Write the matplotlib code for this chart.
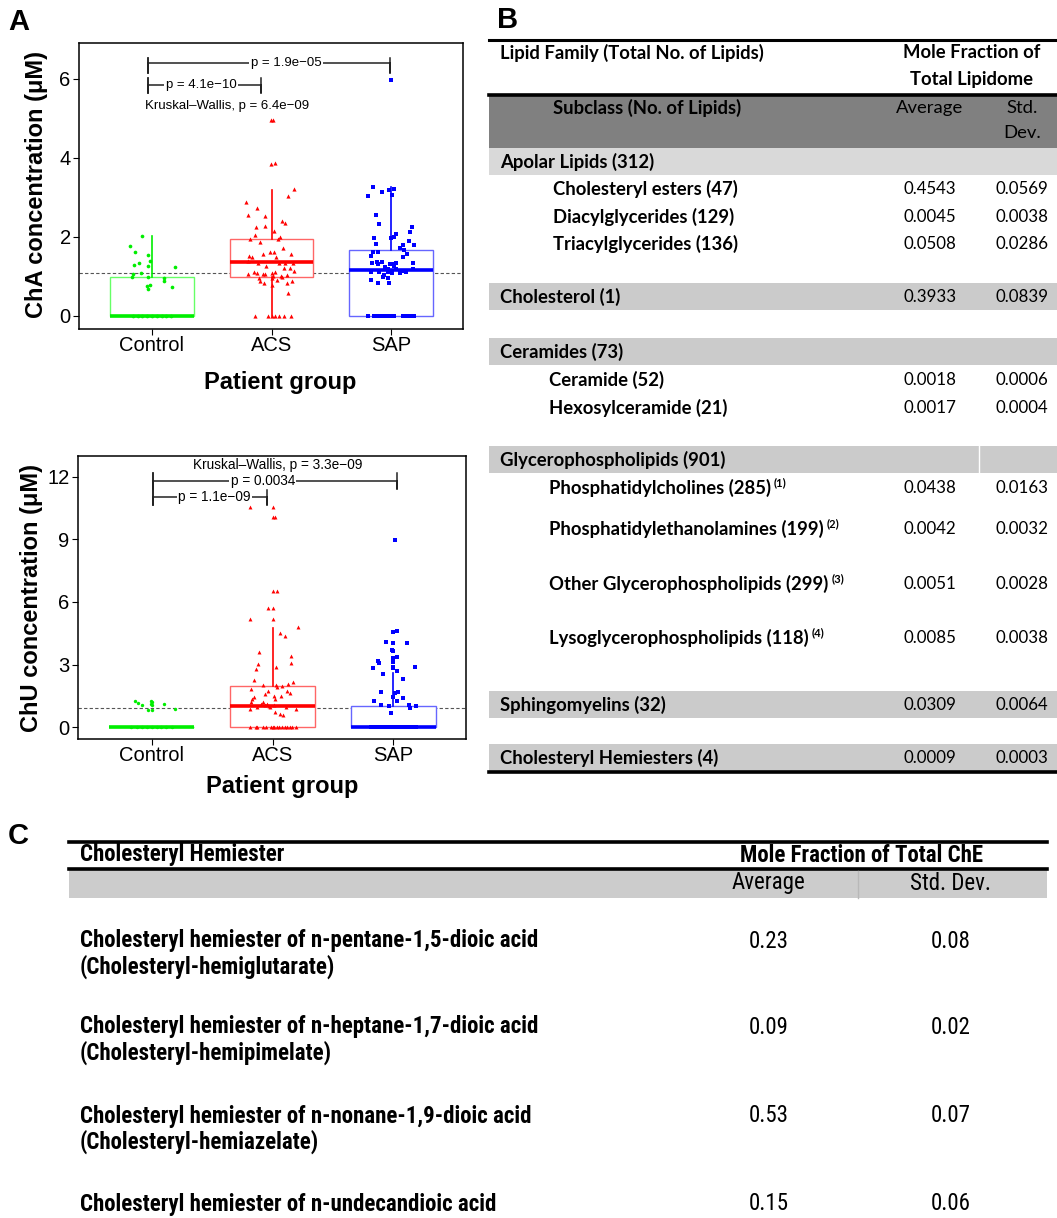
import matplotlib
matplotlib.use("Agg")
import matplotlib.pyplot as plt
from matplotlib.patches import Rectangle
from matplotlib import font_manager as fm
import numpy as np

# ------------------------------------------------------------------ data
groups = ["Control", "ACS", "SAP"]

# Panel A (top): ChA concentration
cha_q1 = [0.0, 0.99, 0.0]
cha_med = [0.0, 1.37, 1.17]
cha_q3 = [0.99, 1.96, 1.68]
cha_whislo = [0.0, 0.0, 0.0]
cha_whishi = [2.03, 3.20, 3.27]
cha_ref = 1.09

cha_ctrl_y = [2.03, 1.78, 1.63, 1.54, 1.40, 1.34, 1.28, 1.27, 1.25, 1.08, 1.06, 0.98, 0.99, 0.97,
              0.89, 0.78, 0.75, 0.73, 0.67, 0, 0, 0, 0, 0, 0, 0, 0, 0]
cha_ctrl_dx = [-0.08, -0.18, -0.14, -0.03, -0.02, -0.11, -0.15, -0.03, 0.19, -0.09, -0.16, -0.17, -0.03,
               0.10, 0.10, -0.02, -0.04, 0.17, -0.03, -0.16, -0.12, -0.08, -0.04, 0.0, 0.04, 0.08, 0.12, 0.16]

cha_acs_y = [4.95, 4.95, 3.85, 3.86, 3.22, 3.03, 2.89, 2.73, 2.55, 2.52, 2.41, 2.35, 2.24, 2.29, 2.16,
             2.05, 2.01, 1.96, 1.95, 1.87, 1.72, 1.62, 1.62, 1.57, 1.56, 1.52, 1.49, 1.50, 1.33, 1.34,
             1.33, 1.38, 1.34, 1.27, 1.22, 1.22, 1.12, 1.08, 1.07, 1.06, 1.10, 1.11, 1.02, 1.02, 1.04,
             1.13, 1.05, 0.95, 0.89, 0.84, 0.95, 0.90, 0.84, 0.89, 0.98, 0.78, 0.59,
             0, 0, 0, 0, 0, 0, 0]
cha_acs_dx = [-0.003, 0.014, -0.003, 0.028, 0.19, 0.14, -0.21, -0.12, -0.20, -0.056, 0.09, 0.114, -0.13,
              -0.058, 0.017, -0.14, 0.07, 0.053, -0.183, -0.094, 0.094, -0.014, 0.019, -0.069, 0.161,
              -0.186, -0.161, 0.039, 0.058, 0.114, 0.178, -0.20, -0.117, -0.044, 0.10, 0.15, -0.144,
              -0.119, -0.072, -0.056, 0.006, 0.025, 0.014, 0.075, 0.125, 0.19, -0.197, -0.106, -0.094,
              -0.061, 0.006, 0.047, 0.131, 0.172, 0.086, 0.0, 0.136,
              -0.14, -0.03, 0.0, 0.03, 0.06, 0.10, 0.16]

cha_sap_y = [5.97, 3.26, 3.22, 3.18, 3.13, 3.03, 3.05, 2.55, 2.32, 2.24, 2.12, 2.07, 2.00, 1.97, 1.97,
             1.89, 1.81, 1.79, 1.79, 1.71, 1.68, 1.61, 1.61, 1.53, 1.56, 1.49, 1.35, 1.33, 1.36, 1.31,
             1.36, 1.32, 1.32, 1.33, 1.27, 1.23, 1.19, 1.19, 1.18, 1.11, 1.11, 1.12, 1.08, 1.08, 1.14,
             1.12, 1.04, 0.98, 0.95, 0.90, 0.83, 0.83,
             0, 0, 0, 0, 0, 0, 0, 0, 0, 0, 0, 0, 0, 0, 0]
cha_sap_dx = [0.0, -0.15, 0.02, -0.02, -0.08, -0.19, 0.01, -0.13, -0.10, 0.17, 0.16, 0.04, 0.02, 0.0,
              -0.14, 0.15, -0.13, 0.19, 0.10, 0.07, 0.11, -0.15, -0.11, -0.17, 0.13, 0.10, 0.18, -0.16,
              -0.12, -0.11, -0.08, -0.01, 0.01, 0.04, 0.02, -0.05, -0.03, 0.04, 0.18, -0.17, -0.10,
              -0.03, 0.01, 0.07, 0.10, 0.12, -0.06, -0.07, -0.03, -0.17, -0.11, -0.02,
              -0.19, -0.14, -0.12, -0.10, -0.08, -0.06, -0.04, -0.02, 0.0, 0.02, 0.10, 0.12, 0.14,
              0.16, 0.19]

# Panel A (bottom): ChU concentration
chu_q1 = [0.0, 0.0, 0.0]
chu_med = [0.0, 1.03, 0.0]
chu_q3 = [0.0, 1.99, 1.03]
chu_whislo = [0.0, 0.0, 0.0]
chu_whishi = [0.0, 4.74, 2.59]
chu_ref = 0.92

chu_ctrl_y = [1.27, 1.18, 1.08, 1.28, 1.20, 1.12, 1.07, 0.84, 0.83, 1.12, 0.86,
              0, 0, 0, 0, 0, 0, 0, 0, 0]
chu_ctrl_dx = [-0.14, -0.11, -0.08, -0.01, 0.0, -0.01, 0.0, -0.03, 0.0, 0.10, 0.19,
               -0.17, -0.12, -0.08, -0.04, 0.0, 0.04, 0.08, 0.12, 0.17]

chu_acs_y = [10.53, 10.53, 10.08, 10.08, 6.53, 6.53, 5.73, 5.71, 5.20, 5.18, 4.79, 4.50, 4.39, 3.62,
             3.43, 3.02, 3.06, 2.79, 2.87, 2.25, 2.17, 2.01, 2.01, 1.98, 1.91, 2.07, 1.82, 1.72, 1.75,
             1.63, 1.58, 1.45, 1.50, 1.50, 1.37, 1.37, 1.20, 1.21, 1.12, 1.13, 1.05, 1.02, 0.97, 1.05,
             0.99, 0.99, 0.88, 0.88, 0.75, 0.65, 0.59,
             0, 0, 0, 0, 0, 0, 0, 0, 0, 0, 0, 0, 0, 0, 0, 0]
chu_acs_dx = [-0.19, 0.0, 0.0, 0.02, 0.0, 0.04, -0.04, 0.0, -0.19, 0.0, 0.21, 0.06, 0.10, -0.11, 0.15,
              -0.12, 0.155, -0.135, 0.025, -0.15, 0.17, -0.08, 0.025, 0.08, 0.04, 0.13, -0.18, -0.04,
              0.12, 0.14, -0.06, -0.15, 0.01, 0.07, -0.17, 0.02, -0.08, -0.18, -0.10, -0.05, -0.06,
              -0.03, -0.02, 0.01, -0.13, 0.11, -0.19, 0.19, 0.02, 0.06, 0.09,
              -0.19, -0.14, -0.13, -0.08, -0.055, -0.017, 0.0, 0.014, 0.033, 0.055, 0.08, 0.10, 0.12,
              0.14, 0.16, 0.19]

chu_sap_y = [8.95, 4.60, 4.56, 4.07, 4.02, 4.02, 3.69, 3.64, 3.35, 3.34, 3.16, 3.10, 3.11, 2.90, 2.83,
             2.87, 2.84, 2.68, 2.54, 2.30, 1.67, 1.63, 1.67, 1.39, 1.44, 1.24, 1.24, 1.05, 1.00, 1.05,
             1.00, 0.91, 0.67,
             0, 0, 0, 0, 0, 0, 0, 0, 0, 0, 0, 0, 0, 0, 0, 0, 0, 0, 0, 0]
chu_sap_dx = [0.01, 0.03, 0.0, -0.06, 0.0, 0.11, -0.01, 0.0, 0.03, 0.0, -0.13, -0.12, 0.0, 0.0, -0.17,
              0.18, 0.0, 0.03, -0.09, 0.08, -0.10, 0.01, 0.04, 0.08, 0.0, -0.16, 0.03, -0.10, -0.04,
              0.13, 0.19, 0.14, -0.02,
              -0.19, -0.17, -0.15, -0.13, -0.11, -0.09, -0.07, -0.05, -0.03, -0.01, 0.01, 0.03, 0.05,
              0.07, 0.09, 0.11, 0.13, 0.15, 0.17, 0.19]

cha_tests = ["p = 1.9e\u221205", "p = 4.1e\u221210", "Kruskal\u2013Wallis, p = 6.4e\u221209"]
chu_tests = ["Kruskal\u2013Wallis, p = 3.3e\u221209", "p = 0.0034", "p = 1.1e\u221209"]

# Panel B table
family_names = ["Apolar Lipids (312)", "Cholesterol (1)", "Ceramides (73)",
                "Glycerophospholipids (901)", "Sphingomyelins (32)", "Cholesteryl Hemiesters (4)"]
family_avg = [None, 0.3933, None, None, 0.0309, 0.0009]
family_sd = [None, 0.0839, None, None, 0.0064, 0.0003]

subclass_names = ["Cholesteryl esters (47)", "Diacylglycerides (129)", "Triacylglycerides (136)",
                  "Ceramide (52)", "Hexosylceramide (21)",
                  "Phosphatidylcholines (285)", "Phosphatidylethanolamines (199)",
                  "Other Glycerophospholipids (299)", "Lysoglycerophospholipids (118)"]
subclass_notes = ["", "", "", "", "", "(1)", "(2)", "(3)", "(4)"]
subclass_avg = [0.4543, 0.0045, 0.0508, 0.0018, 0.0017, 0.0438, 0.0042, 0.0051, 0.0085]
subclass_sd = [0.0569, 0.0038, 0.0286, 0.0006, 0.0004, 0.0163, 0.0032, 0.0028, 0.0038]

# Panel C table
hemiester_names = ["Cholesteryl hemiester of n-pentane-1,5-dioic acid",
                   "Cholesteryl hemiester of n-heptane-1,7-dioic acid",
                   "Cholesteryl hemiester of n-nonane-1,9-dioic acid",
                   "Cholesteryl hemiester of n-undecandioic acid"]
hemiester_alias = ["(Cholesteryl-hemiglutarate)", "(Cholesteryl-hemipimelate)",
                   "(Cholesteryl-hemiazelate)", ""]
hemiester_avg = [0.23, 0.09, 0.53, 0.15]
hemiester_sd = [0.08, 0.02, 0.07, 0.06]

# ------------------------------------------------------------------ fonts
avail = {f.name for f in fm.fontManager.ttflist}
SANS = "Liberation Sans"
NARROW = next((f for f in ["Liberation Sans Narrow", "Roboto Condensed", "Open Sans Condensed"]
               if f in avail), "Liberation Sans")
CAL = "Lato" if "Lato" in avail else "DejaVu Sans"
plt.rcParams["font.family"] = [SANS, "DejaVu Sans"]

W, H = 1057, 1218
fig = plt.figure(figsize=(W / 100, H / 100), dpi=100)
bg = fig.add_axes([0, 0, 1, 1])
bg.set_xlim(0, W)
bg.set_ylim(H, 0)
bg.axis("off")


def fax(x0, y0, x1, y1):
    return fig.add_axes([x0 / W, 1 - y1 / H, (x1 - x0) / W, (y1 - y0) / H])


cols = ["#00ee00", "#ff0000", "#0000ff"]
light = ["#66ff66", "#ff6666", "#6666ff"]
markers = ["o", "^", "s"]


def panel(ax, q1, med, q3, wlo, whi, pts, ref, ylim, yticks, msizes):
    for i in range(3):
        st = [dict(q1=q1[i], med=med[i], q3=q3[i], whislo=wlo[i], whishi=whi[i], label=groups[i])]
        ax.bxp(st, positions=[i + 1], widths=0.7, showfliers=False, showcaps=False,
               patch_artist=True,
               boxprops=dict(facecolor="white", edgecolor=light[i], linewidth=1.0),
               medianprops=dict(color=cols[i], linewidth=2.6, solid_capstyle="butt"),
               whiskerprops=dict(color=cols[i], linewidth=1.2))
        y, dx = pts[i]
        ax.scatter(np.add(i + 1, dx), y, marker=markers[i], s=msizes[i], color=cols[i],
                   linewidths=0, zorder=3)
    ax.axhline(ref, ls=(0, (3, 2)), color="#555555", lw=0.8, zorder=1)
    ax.set_xlim(0.39, 3.60)
    ax.set_ylim(*ylim)
    ax.set_yticks(yticks)
    ax.set_xticks([1, 2, 3])
    ax.set_xticklabels(groups)
    ax.tick_params(axis="both", direction="out", length=4, width=0.8, labelsize=14.5, pad=2)
    ax.tick_params(axis="x", pad=1)
    for s in ax.spines.values():
        s.set_linewidth(1.1)


def bracket(ax, x0, x1, y, up, down, label, xt, fs):
    ax.plot([x0, x0, x0, x1, x1, x1], [y + up, y - down, y, y, y - down, y + up],
            color="#222222", lw=1.1, zorder=5)
    ax.plot([x0, x0], [y + up, y - down], color="#222222", lw=1.1, zorder=5)
    ax.text(xt, y, label, ha="center", va="center", fontsize=fs, zorder=6,
            bbox=dict(facecolor="white", edgecolor="none", pad=1.0))


# ---- top plot
ax1 = fax(79, 43, 463, 329)
panel(ax1, cha_q1, cha_med, cha_q3, cha_whislo, cha_whishi,
      [(cha_ctrl_y, cha_ctrl_dx), (cha_acs_y, cha_acs_dx), (cha_sap_y, cha_sap_dx)],
      cha_ref, (-0.33, 6.91), [0, 2, 4, 6], [7, 9, 12])
bracket(ax1, 0.97, 2.99, 6.40, 0.12, 0.25, cha_tests[0], 2.12, 9.5)
bracket(ax1, 0.97, 1.91, 5.85, 0.18, 0.2, cha_tests[1], 1.41, 9.5)
ax1.text(1.63, 5.32, cha_tests[2], ha="center", va="center", fontsize=9.5)

# ---- bottom plot
ax2 = fax(78, 456, 466, 739)
panel(ax2, chu_q1, chu_med, chu_q3, chu_whislo, chu_whishi,
      [(chu_ctrl_y, chu_ctrl_dx), (chu_acs_y, chu_acs_dx), (chu_sap_y, chu_sap_dx)],
      chu_ref, (-0.56, 12.99), [0, 3, 6, 9, 12], [6, 8, 11])
ax2.text(2.04, 12.56, chu_tests[0], ha="center", va="center", fontsize=9.8)
bracket(ax2, 1.01, 3.03, 11.80, 0.37, 0.4, chu_tests[1], 1.92, 9.8)
bracket(ax2, 1.01, 1.95, 11.03, 0.33, 0.4, chu_tests[2], 1.52, 9.8)

# axis titles
bg.text(37, 184, "ChA concentration (\u03bcM)", rotation=90, ha="center", va="center",
        fontsize=17, fontweight="bold")
bg.text(280, 383, "Patient group", ha="center", va="center", fontsize=17, fontweight="bold")
bg.text(32, 598, "ChU concentration (\u03bcM)", rotation=90, ha="center", va="center",
        fontsize=17, fontweight="bold")
bg.text(282, 787, "Patient group", ha="center", va="center", fontsize=17, fontweight="bold")

# panel letters
bg.text(8, 22, "A", fontsize=21, fontweight="bold", ha="left", va="center")
bg.text(497, 20, "B", fontsize=21, fontweight="bold", ha="left", va="center")
bg.text(8, 836, "C", fontsize=21, fontweight="bold", ha="left", va="center")

# ------------------------------------------------------------------ table B
BX0, BX1 = 489, 1057
CAVG, CSD = 930, 1022
FS_B = 13.3
FS_BV = 12.2
bg.plot([BX0, BX1], [40, 40], color="black", lw=2.2)
bg.text(500, 53, "Lipid Family (Total No. of Lipids)", family=CAL, fontweight="bold",
        fontsize=FS_B, ha="left", va="center")
bg.text(972, 53, "Mole Fraction of", family=CAL, fontweight="bold", fontsize=FS_B,
        ha="center", va="center")
bg.text(972, 79, "Total Lipidome", family=CAL, fontweight="bold", fontsize=FS_B,
        ha="center", va="center")
bg.add_patch(Rectangle((BX0, 95), BX1 - BX0, 53, facecolor="#808080", edgecolor="none"))
bg.plot([BX0, BX1], [95, 95], color="black", lw=2.6)
bg.text(647, 108, "Subclass (No. of Lipids)", family=CAL, fontweight="bold", fontsize=FS_B,
        ha="center", va="center")
bg.text(CAVG, 108, "Average", family=CAL, fontsize=FS_B, ha="center", va="center")
bg.text(CSD, 108, "Std.", family=CAL, fontsize=FS_B, ha="center", va="center")
bg.text(CSD, 133, "Dev.", family=CAL, fontsize=FS_B, ha="center", va="center")

fam_band_y = [148, 283, 338, 446, 691, 744]
fam_band_col = ["#d9d9d9", "#cbcbcb", "#cbcbcb", "#cbcbcb", "#cbcbcb", "#cbcbcb"]
for i, name in enumerate(family_names):
    y0 = fam_band_y[i]
    bg.add_patch(Rectangle((BX0, y0), BX1 - BX0, 27, facecolor=fam_band_col[i], edgecolor="none"))
    bg.text(500, y0 + 13.5, name, family=CAL, fontweight="bold", fontsize=FS_B,
            ha="left", va="center")
    if family_avg[i] is not None:
        bg.text(CAVG, y0 + 14, f"{family_avg[i]:.4f}", family=CAL, fontsize=FS_BV,
                ha="center", va="center")
        bg.text(CSD, y0 + 14, f"{family_sd[i]:.4f}", family=CAL, fontsize=FS_BV,
                ha="center", va="center")
bg.plot([979, 979], [446, 473], color="white", lw=1.0)
bg.plot([BX0, BX1], [772, 772], color="black", lw=2.6)

sub_y = [189, 217, 244, 380, 408, 488, 529, 584, 638]
sub_x = [553, 553, 553, 549, 549, 549, 549, 549, 549]
fig.canvas.draw()
rend = fig.canvas.get_renderer()
for i, name in enumerate(subclass_names):
    t = bg.text(sub_x[i], sub_y[i], name, family=CAL, fontweight="bold", fontsize=FS_B,
                ha="left", va="center")
    if subclass_notes[i]:
        bb = t.get_window_extent(renderer=rend)
        bg.text(bb.x1 + 3, sub_y[i] - 5, subclass_notes[i], family=CAL, fontweight="bold",
                fontsize=8, ha="left", va="center")
    bg.text(CAVG, sub_y[i], f"{subclass_avg[i]:.4f}", family=CAL, fontsize=FS_BV,
            ha="center", va="center")
    bg.text(CSD, sub_y[i], f"{subclass_sd[i]:.4f}", family=CAL, fontsize=FS_BV,
            ha="center", va="center")

# ------------------------------------------------------------------ table C
CX0, CX1 = 69, 1047
FS_C = 16.5
bg.plot([CX0, CX1], [842, 842], color="black", lw=2.6)
bg.text(80, 855, "Cholesteryl Hemiester", family=NARROW, fontweight="bold", fontsize=FS_C,
        ha="left", va="center")
bg.text(862, 855, "Mole Fraction of Total ChE", family=NARROW, fontweight="bold", fontsize=FS_C,
        ha="center", va="center")
bg.add_patch(Rectangle((CX0, 870), CX1 - CX0, 28, facecolor="#cccccc", edgecolor="none"))
bg.plot([CX0, CX1], [869, 869], color="black", lw=2.6)
bg.plot([858, 858], [871, 898], color="#b8b8b8", lw=1.0)
bg.text(768, 883, "Average", family=NARROW, fontsize=FS_C, ha="center", va="center")
bg.text(950, 883, "Std. Dev.", family=NARROW, fontsize=FS_C, ha="center", va="center")

c_row_y = [941, 1027, 1116, 1204]
for i, name in enumerate(hemiester_names):
    y = c_row_y[i]
    bg.text(80, y, name, family=NARROW, fontweight="bold", fontsize=FS_C, ha="left", va="center")
    if hemiester_alias[i]:
        bg.text(80, y + 26, hemiester_alias[i], family=NARROW, fontweight="bold", fontsize=FS_C,
                ha="left", va="center")
    bg.text(769, y, f"{hemiester_avg[i]:.2f}", family=NARROW, fontsize=FS_C, ha="center",
            va="center")
    bg.text(951, y, f"{hemiester_sd[i]:.2f}", family=NARROW, fontsize=FS_C, ha="center",
            va="center")

fig.savefig("out.png", dpi=100)
